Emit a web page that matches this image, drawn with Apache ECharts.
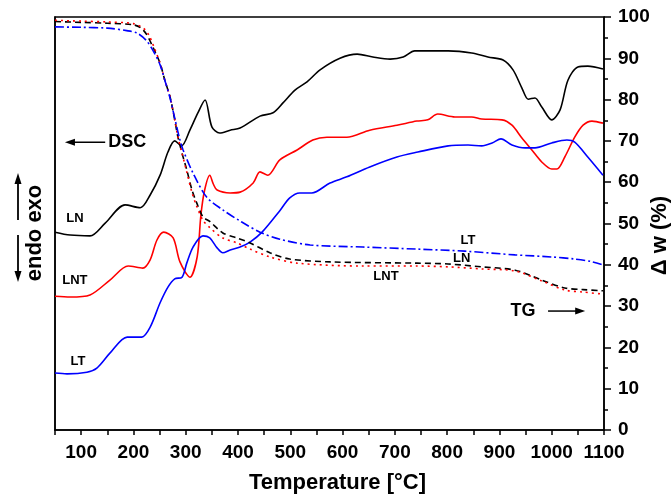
<!DOCTYPE html>
<html>
<head>
<meta charset="utf-8">
<script src="https://cdn.jsdelivr.net/npm/echarts@6/dist/echarts.min.js"></script>
<style>
  html, body { margin: 0; padding: 0; background: #fff; }
  #main { width: 672px; height: 494px; }
</style>
</head>
<body>
<div id="main"></div>
<script>
// DSC curves (arbitrary units, drawn on the hidden left scale 0-100)
var lnDscT = [50, 79, 117, 146, 184, 213, 232, 251, 266, 279, 292, 308, 323, 337, 350, 365, 385, 404, 442, 467, 486, 509, 532, 557, 595, 628, 658, 691, 716, 738, 758, 802, 847, 878, 907, 926, 943, 955, 968, 981, 1000, 1016, 1031, 1050, 1069, 1098];
var lnDscV = [47.9, 47.2, 47.0, 50.1, 54.5, 53.8, 56.9, 61.7, 67.3, 70.0, 68.8, 72.6, 76.7, 79.9, 73.4, 71.9, 72.6, 73.1, 76.0, 76.8, 79.2, 82.3, 84.3, 87.2, 90.0, 91.0, 90.3, 89.8, 90.3, 91.8, 91.8, 91.8, 91.3, 90.3, 89.6, 87.2, 82.8, 80.1, 80.4, 78.2, 75.1, 77.5, 84.7, 87.9, 88.1, 87.4];

var lntDscT = [50, 79, 117, 155, 190, 218, 232, 245, 258, 276, 289, 308, 322, 329, 336, 346, 353, 360, 385, 404, 429, 442, 457, 480, 513, 543, 570, 608, 652, 704, 742, 763, 782, 815, 847, 866, 905, 924, 943, 962, 981, 1000, 1010, 1025, 1044, 1060, 1077, 1098];
var lntDscV = [32.4, 32.2, 32.7, 36.3, 39.7, 39.2, 41.2, 46.0, 47.9, 46.5, 40.7, 37.0, 42.0, 52.0, 58.0, 61.7, 59.5, 58.1, 57.4, 57.6, 59.8, 62.5, 61.7, 65.4, 67.8, 70.2, 70.9, 70.9, 72.6, 73.8, 74.8, 75.1, 76.5, 75.8, 75.8, 75.3, 75.1, 73.8, 70.7, 67.8, 64.9, 63.2, 63.2, 66.1, 70.9, 73.8, 74.8, 74.3];

var ltDscT = [50, 73, 111, 130, 155, 188, 216, 232, 251, 266, 279, 293, 302, 314, 333, 346, 360, 371, 385, 404, 423, 446, 480, 499, 518, 541, 576, 608, 652, 704, 744, 802, 840, 866, 886, 903, 924, 949, 968, 1000, 1029, 1044, 1069, 1098];
var ltDscV = [13.8, 13.6, 14.0, 15.0, 18.6, 22.5, 22.5, 24.9, 30.8, 34.6, 36.6, 37.0, 40.4, 44.3, 47.0, 46.5, 44.1, 42.9, 43.6, 44.3, 45.5, 47.9, 53.1, 56.2, 57.4, 57.4, 59.8, 61.3, 63.7, 66.1, 67.3, 68.8, 69.0, 68.8, 69.5, 70.5, 69.0, 68.3, 68.3, 69.5, 70.2, 69.7, 66.1, 61.7];

// TG curves, mass in %
var lnTgT = [50, 100, 150, 200, 215, 225, 237, 251, 260, 270, 279, 285, 293, 302, 312, 321, 333, 346, 371, 398, 423, 461, 499, 576, 742, 802, 866, 930, 981, 1025, 1060, 1098];
var lnTgV = [98.9, 98.7, 98.5, 98.1, 97.3, 95.8, 92.8, 88.8, 84.7, 80.7, 75.1, 71.0, 67.0, 63.0, 58.1, 55.0, 51.6, 50.5, 47.7, 46.5, 45.3, 42.9, 41.4, 40.7, 40.4, 40.2, 39.5, 38.7, 36.3, 34.4, 34.0, 33.7];

var lntTgT = [50, 100, 150, 200, 220, 230, 240, 251, 260, 270, 279, 285, 293, 302, 312, 321, 333, 346, 371, 398, 423, 461, 513, 639, 742, 802, 866, 930, 981, 1025, 1060, 1098];
var lntTgV = [99.2, 99.0, 98.8, 98.4, 97.2, 95.5, 92.5, 88.8, 84.7, 80.7, 75.1, 71.0, 67.0, 62.5, 57.5, 54.2, 50.8, 49.0, 46.5, 45.3, 43.8, 41.9, 40.4, 39.7, 39.7, 39.5, 39.0, 38.5, 36.1, 33.9, 33.4, 32.9];

var ltTgT = [50, 100, 150, 187, 207, 224, 237, 251, 260, 270, 279, 289, 295, 314, 340, 371, 404, 442, 480, 538, 639, 742, 834, 930, 1000, 1044, 1075, 1098];
var ltTgV = [97.6, 97.5, 97.3, 96.7, 96.1, 94.4, 92.0, 88.4, 84.7, 80.4, 75.5, 70.2, 67.8, 62.2, 56.4, 53.3, 50.6, 47.9, 46.2, 44.8, 44.3, 43.8, 43.3, 42.4, 41.9, 41.4, 40.8, 40.0];

var xTicks = [100, 200, 300, 400, 500, 600, 700, 800, 900, 1000, 1100];

function pairs(t, v) {
    return t.map(function (x, i) { return [x, v[i]]; });
}

var font = 'Liberation Sans, Arial, sans-serif';
var myChart = echarts.init(document.getElementById('main'));

function curve(name, yIdx, t, v, color, type) {
    return {
        name: name,
        type: 'line',
        yAxisIndex: yIdx,
        data: pairs(t, v),
        smooth: 0.3,
        symbol: 'none',
        lineStyle: { color: color, width: 1.6, type: type }
    };
}

var option = {
    animation: false,
    backgroundColor: '#fff',
    grid: {
        left: 55, right: 68, top: 17, bottom: 64,
        outerBoundsMode: 'none',
        containLabel: false,
        show: true, borderColor: '#000', borderWidth: 1.5
    },
    xAxis: {
        type: 'value',
        min: 50, max: 1100, interval: 50,
        name: 'Temperature [°C]',
        nameLocation: 'middle',
        nameGap: 42,
        nameMoveOverlap: false,
        nameTextStyle: { fontFamily: font, fontWeight: 'bold', fontSize: 22, color: '#000', padding: [0, 0, 0, 16] },
        axisLine: { lineStyle: { color: '#000', width: 1.5 } },
        axisTick: { length: 5, lineStyle: { color: '#000', width: 1.5 } },
        axisLabel: {
            margin: 13,
            fontFamily: font, fontWeight: 'bold', fontSize: 19, color: '#000',
            formatter: function (v) { return xTicks.indexOf(v) >= 0 ? String(v) : ''; }
        },
        splitLine: { show: false }
    },
    yAxis: [{
        type: 'value', position: 'left', min: 0, max: 100,
        axisLine: { show: true, lineStyle: { color: '#000', width: 1.5 } },
        axisTick: { show: false },
        axisLabel: { show: false },
        splitLine: { show: false }
    }, {
        type: 'value', position: 'right', min: 0, max: 100, interval: 10,
        name: 'Δ w (%)',
        nameLocation: 'middle',
        nameRotate: 90,
        nameGap: 45,
        nameMoveOverlap: false,
        nameTextStyle: { fontFamily: font, fontWeight: 'bold', fontSize: 22, color: '#000', padding: [0, 24, 0, 0] },
        axisLine: { show: true, lineStyle: { color: '#000', width: 1.5 } },
        axisTick: { length: 7, lineStyle: { color: '#000', width: 1.5 } },
        minorTick: { show: true, splitNumber: 2, length: 4, lineStyle: { color: '#000', width: 1.5 } },
        axisLabel: { margin: 14, fontFamily: font, fontWeight: 'bold', fontSize: 19, color: '#000' },
        splitLine: { show: false }
    }],
    series: [
        curve('LN DSC', 0, lnDscT, lnDscV, '#000000', 'solid'),
        curve('LNT DSC', 0, lntDscT, lntDscV, '#ff0000', 'solid'),
        curve('LT DSC', 0, ltDscT, ltDscV, '#0000ff', 'solid'),
        curve('LN TG', 1, lnTgT, lnTgV, '#000000', [6, 4]),
        curve('LNT TG', 1, lntTgT, lntTgV, '#ff0000', [2, 4]),
        curve('LT TG', 1, ltTgT, ltTgV, '#0000ff', [9, 3, 2, 3])
    ]
};

myChart.setOption(option);

function px(t, v) {
    return myChart.convertToPixel({ xAxisIndex: 0, yAxisIndex: 1 }, [t, v]);
}

function label(text, t, v, size) {
    var p = px(t, v);
    return {
        type: 'text', x: p[0], y: p[1], z: 100,
        style: { text: text, fill: '#000', font: 'bold ' + size + 'px ' + font, align: 'center', verticalAlign: 'middle' }
    };
}

function hArrow(t1, t2, v, dir) {
    var a = px(t1, v), b = px(t2, v);
    var tip = dir < 0 ? a[0] : b[0];
    var back = tip - dir * 10;
    return [{
        type: 'line', z: 100,
        shape: { x1: a[0] + (dir < 0 ? 6 : 0), y1: a[1], x2: b[0] - (dir > 0 ? 6 : 0), y2: b[1] },
        style: { stroke: '#000', lineWidth: 1.5 }
    }, {
        type: 'polygon', z: 100,
        shape: { points: [[tip, a[1]], [back, a[1] - 3.5], [back, a[1] + 3.5]] },
        style: { fill: '#000' }
    }];
}

function vArrow(x, y1, y2, dir) {
    var tip = dir < 0 ? y1 : y2;
    var back = tip - dir * 11;
    return [{
        type: 'line', z: 100,
        shape: { x1: x, y1: y1 + (dir < 0 ? 6 : 0), x2: x, y2: y2 - (dir > 0 ? 6 : 0) },
        style: { stroke: '#000', lineWidth: 1.8 }
    }, {
        type: 'polygon', z: 100,
        shape: { points: [[x, tip], [x - 3.5, back], [x + 3.5, back]] },
        style: { fill: '#000' }
    }];
}

var graphics = [
    label('LN', 88, 51.3, 13),
    label('LNT', 88, 36.1, 13),
    label('LT', 94, 16.5, 13),
    label('LT', 840, 46.0, 13),
    label('LN', 828, 41.6, 13),
    label('LNT', 683, 37.3, 13),
    label('DSC', 188, 69.7, 18),
    label('TG', 945, 28.8, 18),
    {
        type: 'text', x: 35, y: 233, rotation: Math.PI / 2, z: 100,
        style: { text: 'endo exo', fill: '#000', font: 'bold 22px ' + font, align: 'center', verticalAlign: 'middle' }
    }
];
graphics = graphics.concat(hArrow(69, 146, 69.7, -1));
graphics = graphics.concat(hArrow(993, 1064, 28.8, 1));
graphics = graphics.concat(vArrow(18, 173, 220, -1));
graphics = graphics.concat(vArrow(18, 235, 282, 1));

myChart.setOption({ graphic: graphics });
</script>
</body>
</html>
